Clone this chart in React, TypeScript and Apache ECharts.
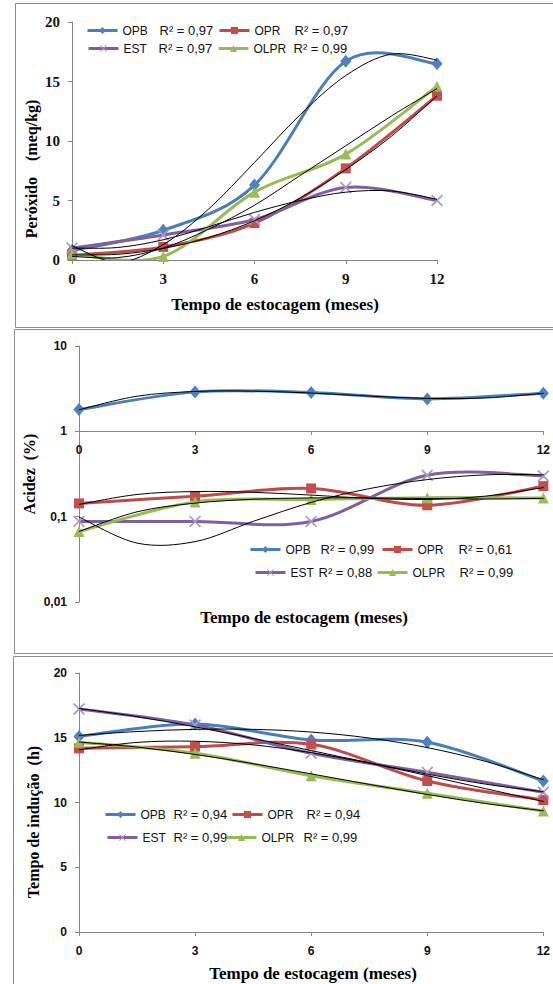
import React, { useEffect, useRef } from 'react';
import * as echarts from 'echarts';

// ---------- data ----------
const months = [0, 3, 6, 9, 12];
const trendMonths = [0, 1.5, 3, 4.5, 6, 7.5, 9, 10.5, 12];
const seriesNames = ['OPB', 'OPR', 'EST', 'OLPR'];

// Peróxido (meq/kg)
const peroxOPB = [0.8, 2.5, 6.3, 16.7, 16.5];
const peroxOPR = [0.4, 1.1, 3.1, 7.7, 13.8];
const peroxEST = [1.0, 2.1, 3.4, 6.1, 5.0];
const peroxOLPR = [0.5, 0.3, 5.7, 8.9, 14.6];
const peroxTrendOPB = [1.2, -0.2, 1.3, 4.3, 8.2, 12.2, 15.5, 17.3, 16.8];
const peroxTrendOPR = [0.43, 0.48, 0.97, 1.9, 3.3, 5.2, 7.6, 10.4, 13.8];
const peroxTrendEST = [1.0, 1.05, 1.7, 2.8, 4.0, 5.0, 5.7, 5.8, 5.1];
const peroxTrendOLPR = [0.3, 0.2, 1.0, 2.6, 4.6, 7.1, 9.6, 12.1, 14.4];
const peroxR2 = ['0,97', '0,97', '0,97', '0,99'];

// Acidez (%)
const acidOPB = [1.8, 2.9, 2.85, 2.4, 2.8];
const acidOPR = [0.143, 0.174, 0.214, 0.136, 0.228];
const acidEST = [0.088, 0.088, 0.088, 0.306, 0.3];
const acidOLPR = [0.067, 0.149, 0.159, 0.167, 0.165];
const acidTrendOPB = [1.79, 2.58, 2.93, 2.96, 2.81, 2.59, 2.43, 2.46, 2.79];
const acidTrendOPR = [0.139, 0.182, 0.197, 0.193, 0.179, 0.164, 0.159, 0.174, 0.219];
const acidTrendEST = [0.099, 0.049, 0.051, 0.088, 0.147, 0.213, 0.272, 0.309, 0.31];
const acidTrendOLPR = [0.067, 0.114, 0.144, 0.16, 0.166, 0.166, 0.163, 0.161, 0.164];
const acidR2 = ['0,99', '0,61', '0,88', '0,99'];

// Tempo de indução (h)
const inducOPB = [15.1, 16.06, 14.83, 14.65, 11.66];
const inducOPR = [14.18, 14.31, 14.49, 11.66, 10.19];
const inducEST = [17.22, 15.98, 13.8, 12.33, 10.79];
const inducOLPR = [14.65, 13.8, 12.07, 10.71, 9.34];
const inducTrendOPB = [15.18, 15.48, 15.65, 15.65, 15.44, 14.98, 14.24, 13.18, 11.76];
const inducTrendOPR = [14.07, 14.64, 14.73, 14.45, 13.85, 13.04, 12.08, 11.07, 10.08];
const inducTrendEST = [17.26, 16.63, 15.84, 14.95, 14.01, 13.07, 12.19, 11.42, 10.83];
const inducTrendOLPR = [14.67, 14.28, 13.71, 13.0, 12.21, 11.4, 10.62, 9.92, 9.36];
const inducR2 = ['0,94', '0,94', '0,99', '0,99'];

const xTitle = 'Tempo de estocagem (meses)';
const yTitles = ['Peróxido\u00a0\u00a0\u00a0\u00a0(meq/kg)', 'Acidez\u00a0\u00a0(%)', 'Tempo de indução\u00a0\u00a0(h)'];

// ---------- styles ----------
const LINE_COLORS = ['#4A7EBB', '#BE4B48', '#7D60A0', '#98B954'];
const MARK_COLORS = ['#4F81BD', '#C0504D', '#A898CA', '#9BBB59'];
const X_PATH = 'path://M1,0 L5,4 L9,0 L10,1 L6,5 L10,9 L9,10 L5,6 L1,10 L0,9 L4,5 L0,1 Z';
const SYMBOLS = ['diamond', 'rect', X_PATH, 'triangle'];
const SYMBOL_SIZES: any[] = [[11, 13], 10, 12, 11];

const SERIF = '"Liberation Serif", "Times New Roman", serif';
const SANS = '"Liberation Sans", Arial, sans-serif';

// Excel-like smoothed curve (Catmull-Rom as cubic Bezier) through pixel points
function curvePath(pts: number[][]) {
  let d = `M${pts[0][0]},${pts[0][1]}`;
  for (let i = 0; i < pts.length - 1; i++) {
    const p0 = pts[i - 1] || pts[i];
    const p1 = pts[i];
    const p2 = pts[i + 1];
    const p3 = pts[i + 2] || p2;
    const c1x = p1[0] + (p2[0] - p0[0]) / 6;
    const c1y = p1[1] + (p2[1] - p0[1]) / 6;
    const c2x = p2[0] - (p3[0] - p1[0]) / 6;
    const c2y = p2[1] - (p3[1] - p1[1]) / 6;
    d += ` C${c1x},${c1y} ${c2x},${c2y} ${p2[0]},${p2[1]}`;
  }
  return d;
}

function curveSeries(gi: number, xs: number[], values: number[], color: string, width: number, z: number, name: string) {
  return {
    type: 'custom',
    name,
    xAxisIndex: gi,
    yAxisIndex: gi,
    data: xs.map((x, k) => [x, values[k]]),
    encode: { x: 0, y: 1 },
    clip: true,
    silent: true,
    z,
    renderItem: (params: any, api: any) => {
      if (params.dataIndexInside !== 0) return null;
      const pts = xs.map((x, k) => api.coord([x, values[k]]));
      return {
        type: 'path',
        shape: { pathData: curvePath(pts) },
        style: { stroke: color, lineWidth: width, fill: 'none', lineJoin: 'round', lineCap: 'round' },
      };
    },
  };
}

// markers (line series with hidden line; curve is drawn by the custom series)
function markerSeries(i: number, gi: number, values: number[]) {
  return {
    type: 'line',
    name: seriesNames[i],
    xAxisIndex: gi,
    yAxisIndex: gi,
    data: months.map((m, k) => [m, values[k]]),
    symbol: SYMBOLS[i],
    symbolSize: SYMBOL_SIZES[i],
    showAllSymbol: true,
    lineStyle: { color: LINE_COLORS[i], width: 3, opacity: 0 },
    itemStyle: { color: MARK_COLORS[i] },
    z: 3,
  };
}

function panelSeries(gi: number, data: number[][], trends: number[][]) {
  const out: any[] = [];
  data.forEach((vals, i) => {
    out.push(curveSeries(gi, months, vals, LINE_COLORS[i], 3, 2, seriesNames[i] + ' curva ' + gi));
    out.push(markerSeries(i, gi, vals));
  });
  trends.forEach((vals, i) => {
    out.push(curveSeries(gi, trendMonths, vals, '#000', 1, 4, seriesNames[i] + ' tendência ' + gi));
  });
  return out;
}

// legend placement: [left, rowCenterY, nameWidth]
const legendLayouts = [
  [[86, 31, 37], [218, 31, 40], [87, 49, 35], [217, 49, 40]],
  [[249, 550, 35], [381, 550, 41], [254, 573, 28], [376, 573, 47]],
  [[104, 815, 33], [231, 815, 39], [106, 838, 31], [225, 838, 42]],
];
const r2Lists = [peroxR2, acidR2, inducR2];

function buildLegends() {
  const out: any[] = [];
  legendLayouts.forEach((panel, p) => {
    panel.forEach((pos, i) => {
      const r2 = r2Lists[p][i];
      out.push({
        data: [{ name: seriesNames[i], lineStyle: { color: LINE_COLORS[i], width: 3, opacity: 1 } }],
        left: pos[0],
        top: pos[1] - 7,
        padding: 0,
        itemWidth: 30,
        itemHeight: 9,
        selectedMode: false,
        formatter: (name: string) => `{n|${name}}{r|R² = ${r2}}`,
        textStyle: {
          color: '#111',
          fontFamily: SANS,
          rich: {
            n: { width: pos[2], fontSize: 12, fontFamily: SANS, color: '#111' },
            r: { fontSize: 13, fontFamily: SANS, color: '#111' },
          },
        },
      });
    });
  });
  return out;
}

const axisLineStyle = { color: '#868686', width: 1 };

function xAxisCfg(gi: number, extra: any = {}) {
  const serif = gi === 0;
  return {
    type: 'value',
    gridIndex: gi,
    min: 0,
    max: 12,
    interval: 3,
    axisLine: { show: true, onZero: false, lineStyle: axisLineStyle },
    axisTick: { show: true, length: 4, inside: false, lineStyle: axisLineStyle },
    splitLine: { show: false },
    axisLabel: {
      color: '#111',
      fontWeight: 'bold',
      fontFamily: serif ? SERIF : SANS,
      fontSize: serif ? 15 : 12,
      margin: serif ? 11 : 13,
    },
    ...extra,
  };
}

function yValueAxis(gi: number, serif: boolean) {
  return {
    type: 'value',
    gridIndex: gi,
    min: 0,
    max: 20,
    interval: 5,
    axisLine: { show: true, lineStyle: axisLineStyle },
    axisTick: { show: true, length: 4, inside: false, lineStyle: axisLineStyle },
    splitLine: { show: false },
    axisLabel: {
      color: '#111',
      fontWeight: 'bold',
      fontFamily: serif ? SERIF : SANS,
      fontSize: serif ? 15 : 12,
      margin: 12,
    },
  };
}

function App() {
  const ref = useRef<HTMLDivElement>(null);
  useEffect(() => {
    document.body.style.margin = '0';
    document.body.style.overflow = 'hidden';
    if (!ref.current) return;
    const chart = echarts.init(ref.current, undefined, { renderer: 'svg' });

    const series: any[] = [
      ...panelSeries(0, [peroxOPB, peroxOPR, peroxEST, peroxOLPR], [peroxTrendOPB, peroxTrendOPR, peroxTrendEST, peroxTrendOLPR]),
      ...panelSeries(1, [acidOPB, acidOPR, acidEST, acidOLPR], [acidTrendOPB, acidTrendOPR, acidTrendEST, acidTrendOLPR]),
      ...panelSeries(2, [inducOPB, inducOPR, inducEST, inducOLPR], [inducTrendOPB, inducTrendOPR, inducTrendEST, inducTrendOLPR]),
    ];

    const xFont = `bold 17px ${SERIF}`;
    const yFont = `bold 16px ${SERIF}`;
    const border = { fill: 'none', stroke: '#8c8c8c', lineWidth: 1 };
    const graphic: any[] = [
      { type: 'rect', shape: { x: 15.5, y: 3.5, width: 600, height: 324 }, style: border, silent: true },
      { type: 'rect', shape: { x: 14.5, y: 329.5, width: 600, height: 324 }, style: border, silent: true },
      { type: 'rect', shape: { x: 13.5, y: 656.5, width: 600, height: 400 }, style: border, silent: true },
      { type: 'text', x: 275, y: 304, style: { text: xTitle, font: xFont, fill: '#000', align: 'center', verticalAlign: 'middle' } },
      { type: 'text', x: 304, y: 617, style: { text: xTitle, font: xFont, fill: '#000', align: 'center', verticalAlign: 'middle' } },
      { type: 'text', x: 313, y: 973, style: { text: xTitle, font: xFont, fill: '#000', align: 'center', verticalAlign: 'middle' } },
      { type: 'text', x: 31, y: 169, rotation: Math.PI / 2, style: { text: yTitles[0], font: yFont, fill: '#000', align: 'center', verticalAlign: 'middle' } },
      { type: 'text', x: 29, y: 474, rotation: Math.PI / 2, style: { text: yTitles[1], font: yFont, fill: '#000', align: 'center', verticalAlign: 'middle' } },
      { type: 'text', x: 33, y: 822, rotation: Math.PI / 2, style: { text: yTitles[2], font: yFont, fill: '#000', align: 'center', verticalAlign: 'middle' } },
    ];

    chart.setOption({
      animation: false,
      backgroundColor: '#ffffff',
      grid: [
        { left: 72, top: 22, width: 365, height: 238, containLabel: false },
        { left: 79, top: 346, width: 466, height: 256, containLabel: false },
        { left: 79, top: 673, width: 466, height: 259, containLabel: false },
      ],
      xAxis: [
        xAxisCfg(0),
        xAxisCfg(1, { offset: -171 }),
        xAxisCfg(2),
      ],
      yAxis: [
        yValueAxis(0, true),
        {
          type: 'log',
          gridIndex: 1,
          logBase: 10,
          min: 0.01,
          max: 10,
          axisLine: { show: true, lineStyle: axisLineStyle },
          axisTick: { show: true, length: 4, inside: false, lineStyle: axisLineStyle },
          minorTick: { show: false },
          splitLine: { show: false },
          axisLabel: {
            color: '#111',
            fontWeight: 'bold',
            fontFamily: SANS,
            fontSize: 12,
            margin: 12,
            formatter: (v: number) => String(Number(Number(v).toPrecision(3))).replace('.', ','),
          },
        },
        yValueAxis(2, false),
      ],
      legend: buildLegends(),
      graphic,
      series,
    });
    return () => chart.dispose();
  }, []);
  return <div ref={ref} style={{ width: 553, height: 984 }} />;
}

export default App;
